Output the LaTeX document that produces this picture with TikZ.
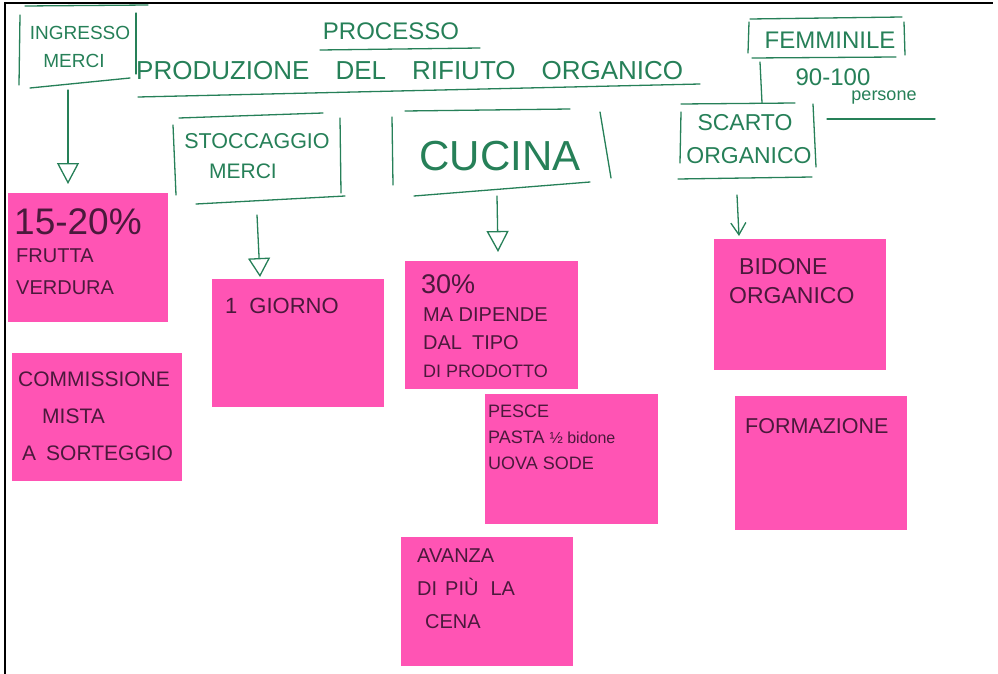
\documentclass[tikz,border=0pt]{standalone}
\usepackage{fontspec}
\setmainfont{Liberation Sans}
\usetikzlibrary{arrows.meta,calc}

\definecolor{ink}{RGB}{38,128,88}
\definecolor{dark}{RGB}{75,25,60}
\definecolor{note}{RGB}{255,84,180}

\tikzset{
  pen/.style={draw=ink, line width=1.3pt, line cap=round},
  gtext/.style={text=ink, inner sep=0pt},
  ntext/.style={text=dark, inner sep=0pt, align=left, anchor=north west},
  sticky/.style={fill=note, draw=none, inner sep=0pt, anchor=north west},
  hollowtip/.style={pen, -{Triangle[open, length=#1, width=22pt, line width=1.3pt]}},
  barbtip/.style={pen, -{Straight Barb[length=12pt, width=15pt, line width=1.3pt]}},
}

\begin{document}
\begin{tikzpicture}[x=1pt, y=-1pt]
\useasboundingbox (0,0) rectangle (998,674);
\fill[white] (0,0) rectangle (998,674);

% scan frame
\draw[line width=2.4pt, black] (4,3) -- (993,3);
\draw[line width=2.4pt, black] (5,2) -- (5,674);

% ---------- green hand-written part ----------
% ingresso merci
\node[gtext, font=\fontsize{19}{19}\selectfont] (ingresso) at (80,33) {INGRESSO};
\node[gtext, font=\fontsize{19}{19}\selectfont] (merci1) at (74,61) {MERCI};
\draw[pen] (25,6) -- (148,5);
\draw[pen] (20,15) -- (19,85);
\draw[pen] (136,13) -- (136,74);
\draw[pen] (30,88) -- (130,78);

% title
\node[gtext, font=\fontsize{24}{24}\selectfont] (processo) at (391,31) {PROCESSO};
\draw[pen] (320,50) -- (480,48);
\node[gtext, font=\fontsize{26}{26}\selectfont, anchor=west] (titolo) at (136,71)
  {\spaceskip=26pt PRODUZIONE DEL RIFIUTO ORGANICO};
\draw[pen] (138,97) -- (700,84);

% stoccaggio merci
\node[gtext, font=\fontsize{21.5}{21.5}\selectfont] (stocc) at (257,141) {STOCCAGGIO};
\node[gtext, font=\fontsize{21}{21}\selectfont] (merci2) at (243,171) {MERCI};
\draw[pen] (179,118) -- (323,113);
\draw[pen] (173,125) -- (176,195);
\draw[pen] (340,118) -- (341,193);
\draw[pen] (196,204) -- (345,196);

% cucina
\node[gtext, font=\fontsize{42}{42}\selectfont] (cucina) at (500,156) {CUCINA};
\draw[pen] (405,111) -- (570,109);
\draw[pen] (392,117) -- (393,185);
\draw[pen] (600,112) -- (611,178);
\draw[pen] (414,196) -- (590,182);

% femminile
\node[gtext, font=\fontsize{24}{24}\selectfont] (femm) at (830,40) {FEMMINILE};
\draw[pen] (750,19) -- (902,17);
\draw[pen] (749,22) -- (748,53);
\draw[pen] (904,22) -- (905,55);
\draw[pen] (752,58) -- (896,57);
\node[gtext, font=\fontsize{24}{24}\selectfont] (persone1) at (833,77) {90-100};
\node[gtext, font=\fontsize{18}{18}\selectfont] (persone2) at (884,98) {persone};
\draw[pen] (827,119) -- (935,119);

% scarto organico
\node[gtext, font=\fontsize{23}{23}\selectfont] (scarto) at (745,123) {SCARTO};
\node[gtext, font=\fontsize{23}{23}\selectfont] (organico) at (749,156) {ORGANICO};
\draw[pen] (681,104) -- (795,103);
\draw[pen] (681,112) -- (680,163);
\draw[pen] (813,104) -- (816,167);
\draw[pen] (678,179) -- (812,177);

% femminile -- scarto link
\coordinate (fdown) at (760,62);
\coordinate (sup) at (762,103);
\draw[pen] (fdown) -- (sup);

% ---------- sticky notes ----------
\node[sticky, minimum width=160pt, minimum height=129pt] (n1) at (8,193) {};
\node[ntext, font=\fontsize{37}{37}\selectfont] (t1a) at (14,208) {15-20\%};
\node[ntext, font=\fontsize{20}{32}\selectfont] (t1b) at (16,249) {FRUTTA\\VERDURA};

\node[sticky, minimum width=170pt, minimum height=128pt] (n2) at (12,353) {};
\node[ntext, font=\fontsize{21}{37}\selectfont] (t2) at (18,372)
  {COMMISSIONE\\\hspace*{24pt}MISTA\\\hspace*{4pt}A\hspace{10pt}SORTEGGIO};

\node[sticky, minimum width=172pt, minimum height=128pt] (n3) at (212,279) {};
\node[ntext, font=\fontsize{22}{22}\selectfont] (t3) at (225,298) {1\hspace{12pt}GIORNO};

\node[sticky, minimum width=173pt, minimum height=128pt] (n4) at (405,261) {};
\node[ntext, font=\fontsize{27}{27}\selectfont] (t4a) at (421,274) {30\%};
\node[ntext, font=\fontsize{20}{28}\selectfont] (t4b) at (423,308)
  {MA DIPENDE\\DAL\hspace{10pt}TIPO\\{\fontsize{18}{18}\selectfont DI PRODOTTO}};

\node[sticky, minimum width=173pt, minimum height=130pt] (n5) at (485,394) {};
\node[ntext, font=\fontsize{18}{26}\selectfont] (t5) at (488,405)
  {PESCE\\PASTA {\fontsize{16}{16}\selectfont ½ bidone}\\UOVA SODE};

\node[sticky, minimum width=172pt, minimum height=129pt] (n6) at (401,537) {};
\node[ntext, font=\fontsize{20}{33}\selectfont] (t6) at (417,549)
  {AVANZA\\DI\hspace{8pt}PIÙ\hspace{12pt}LA\\\hspace*{8pt}CENA};

\node[sticky, minimum width=172pt, minimum height=131pt] (n7) at (714,239) {};
\node[ntext, font=\fontsize{23}{29}\selectfont] (t7) at (729,258)
  {\hspace*{10pt}BIDONE\\ORGANICO};

\node[sticky, minimum width=172pt, minimum height=134pt] (n8) at (735,396) {};
\node[ntext, font=\fontsize{21.5}{21.5}\selectfont] (t8) at (745,418) {FORMAZIONE};

% ---------- arrows ----------
\coordinate (a1s) at (68,90);
\coordinate (a1e) at (68,184);
\draw[hollowtip=21pt] (a1s) -- (a1e);

\coordinate (a2s) at (257,215);
\coordinate (a2e) at (260,277);
\draw[hollowtip=19pt] (a2s) -- (a2e);

\coordinate (a3s) at (497,196);
\coordinate (a3e) at (498,252);
\draw[hollowtip=21pt] (a3s) -- (a3e);

\coordinate (a4s) at (737,195);
\coordinate (a4e) at (739,236);
\draw[barbtip] (a4s) -- (a4e);
\end{tikzpicture}
\end{document}
